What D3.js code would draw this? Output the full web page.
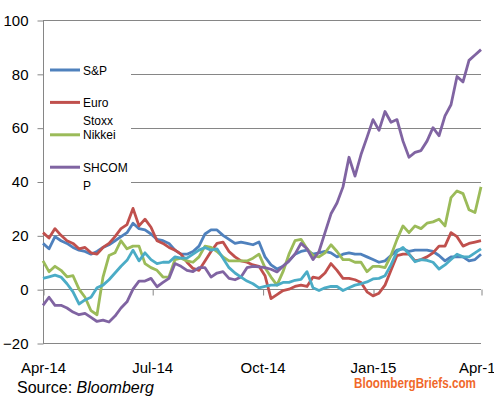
<!DOCTYPE html>
<html lang="en">
<head>
<meta charset="UTF-8" />
<title>Equity indices, Apr-14 to Apr-15</title>
<script src="https://d3js.org/d3.v7.min.js"></script>
<style>
  body { margin: 0; background: #fff; }
  svg { display: block; font-family: "Liberation Sans", Arial, sans-serif; }
  .grid line { stroke: #868686; stroke-width: 1; }
  .axis path, .axis line { stroke: #868686; }
  .axis text { fill: #000; font-size: 15px; }
  .series { fill: none; stroke-width: 2.8; stroke-linejoin: round; }
  .legend text { font-size: 12px; fill: #000; }
</style>
</head>
<body>
<svg id="chart" width="494" height="399"></svg>
<script>
// sample dates (every 5 days)
const dates = [
  "2014-04-01","2014-04-06","2014-04-11","2014-04-16","2014-04-21","2014-04-26",
  "2014-05-01","2014-05-06","2014-05-11","2014-05-16","2014-05-21","2014-05-26","2014-05-31",
  "2014-06-05","2014-06-10","2014-06-15","2014-06-20","2014-06-25","2014-06-30",
  "2014-07-05","2014-07-10","2014-07-15","2014-07-20","2014-07-25","2014-07-30",
  "2014-08-04","2014-08-09","2014-08-14","2014-08-19","2014-08-24","2014-08-29",
  "2014-09-03","2014-09-08","2014-09-13","2014-09-18","2014-09-23","2014-09-28",
  "2014-10-03","2014-10-08","2014-10-13","2014-10-18","2014-10-23","2014-10-28",
  "2014-11-02","2014-11-07","2014-11-12","2014-11-17","2014-11-22","2014-11-27",
  "2014-12-02","2014-12-07","2014-12-12","2014-12-17","2014-12-22","2014-12-27",
  "2015-01-01","2015-01-06","2015-01-11","2015-01-16","2015-01-21","2015-01-26","2015-01-31",
  "2015-02-05","2015-02-10","2015-02-15","2015-02-20","2015-02-25",
  "2015-03-02","2015-03-07","2015-03-12","2015-03-17","2015-03-22","2015-03-27",
  "2015-04-01"
];

const spx = [
  17, 15, 19.5, 18, 17, 15.5, 14.5, 14, 13, 14,
  15.5, 16.5, 18, 19.5, 21, 24.5, 22.5, 22, 20.5, 18.5,
  18, 17, 14.5, 13, 13, 14, 16, 20.5, 22, 22,
  20, 18.5, 17, 17.5, 17, 16.5, 17.5, 12, 9, 7.5,
  8.5, 10.5, 13, 14, 14.5, 13, 13.5, 14, 13.5, 12,
  13, 13.5, 13, 13, 12, 11, 10, 10.5, 12.5, 14.5,
  15, 14, 14.5, 14.5, 14.5, 14, 12.5, 10.5, 12, 12,
  12, 10.5, 11, 13
];
const stoxx = [
  21, 19, 22.5, 20, 18, 17, 15, 15.5, 13.5, 13,
  15.5, 17, 19.5, 22.5, 24, 30, 23.5, 26, 23, 18,
  17, 15.5, 14.5, 13, 10, 7.7, 7, 10.5, 14, 17,
  17.5, 14, 12, 10.5, 10, 9, 8.5, 5, -3.5, -2,
  -0.5, 0, 1, 1.5, 1, 4.5, 4, 6, 9.5, 7,
  4, 4, 3.5, 2.5, -1, -2.5, -1.5, 1.5, 7, 12.5,
  13, 13, 10.5, 11, 12, 13.5, 16, 16, 21, 19.5,
  16, 17, 17.5, 18
];
const nikkei = [
  10.5, 6.5, 8.5, 7, 4.6, 5, 0, -3, -8, -9.5,
  4.5, 12.5, 13.5, 18, 15, 16, 16, 9.5, 8, 7,
  4.5, 4.6, 11, 11.5, 10.5, 10, 12, 16, 15.5, 14,
  12, 10.5, 10.5, 10.5, 10.5, 11.5, 13, 8, 4.5, 1.5,
  6.5, 13, 18, 18.5, 15, 12.5, 12, 13.5, 16.5, 14,
  11, 11, 10, 10, 6.5, 8.5, 8.5, 8, 12.5, 18.5,
  23.5, 21, 23.5, 22.5, 24.5, 25, 26, 23.5, 34, 36.5,
  35.5, 29.5, 28.5, 38
];
const shcomp = [
  -6, -3, -6, -6, -7, -8.5, -9.5, -9, -10.5, -12,
  -11.5, -12.2, -10, -7, -4.7, 0, 3, 3, 4, 0.9,
  2.5, 4, 9.5, 8.5, 7, 6.5, 8, 8, 4.5, 6,
  6.5, 4, 3.5, 4.5, 8, 8.5, 8.3, 8, 7.4, 6.4,
  8.5, 10.5, 13, 17, 15, 11, 14, 21, 28, 32,
  38, 49, 42, 50, 56.4, 63, 59, 66, 62, 63,
  55, 49, 50.8, 51.5, 55, 60, 57, 64.4, 68.5, 79,
  77, 85, 87, 89
];
const other = [
  4, 4.6, 5.2, 4.5, 2, -1, -5.5, -4, -3, 0.5,
  1.5, 3.5, 6, 8.5, 10.7, 14.5, 10.5, 13.5, 11, 9.5,
  10, 10, 12, 11.5, 11.5, 13, 14.5, 15.5, 14.5, 15,
  11.5, 8, 6, 4.5, 3, 2, 0.5, 1, 1.5, 1.5,
  2.5, 2.5, 3.3, 3.6, 6.5, 0.5, -0.5, 0.5, 1, 1,
  -0.5, 0.5, 1.5, 2, 2.7, 3.8, 4, 5, 9, 14,
  15.5, 13, 10.2, 11, 10.7, 10, 7.5, 9, 11, 13,
  12, 12, 13.5, 15
];

const seriesNames = ["S&P", "Euro Stoxx", "Nikkei", "SHCOMP", ""];
const seriesValues = [spx, stoxx, nikkei, shcomp, other];
const seriesColors = ["#4f81bd", "#c0504d", "#9bbb59", "#8064a2", "#4bacc6"];
const legendLines = [["S&P"], ["Euro", "Stoxx"], ["Nikkei"], ["SHCOM", "P"]];
const yTicks = [-20, 0, 20, 40, 60, 80, 100];

const svg = d3.select("#chart");
const parse = d3.timeParse("%Y-%m-%d");

const x = d3.scaleTime()
  .domain([parse("2014-04-01"), parse("2015-04-01")])
  .range([43, 481]);
const y = d3.scaleLinear().domain([-20, 100]).range([343, 20]);

// gridlines
svg.append("g").attr("class", "grid")
  .selectAll("line")
  .data(yTicks)
  .join("line")
  .attr("x1", 43).attr("x2", 481)
  .attr("y1", d => Math.round(y(d)) + 0.5)
  .attr("y2", d => Math.round(y(d)) + 0.5);

// y axis
svg.append("g").attr("class", "axis")
  .attr("transform", "translate(43.5,0.5)")
  .call(d3.axisLeft(y).tickValues(yTicks).tickSize(6).tickSizeOuter(0).tickPadding(9))
  .call(g => g.select(".domain").attr("d", `M0,${y(100)}V${y(-20)}`));

// x axis ticks on the zero line
const xTicks = d3.timeMonth.every(3).range(parse("2014-04-01"), parse("2015-04-02"));
svg.append("g").attr("class", "axis")
  .attr("transform", `translate(0.5,${Math.round(y(0)) + 0.5})`)
  .call(d3.axisBottom(x).tickValues(xTicks).tickSize(6).tickSizeOuter(0).tickFormat(""))
  .call(g => g.select(".domain").remove());

// x labels at the bottom
svg.append("g").attr("class", "axis")
  .attr("transform", "translate(0,356)")
  .call(d3.axisBottom(x).tickValues(xTicks).tickSize(0).tickPadding(6).tickFormat(d3.timeFormat("%b-%y")))
  .call(g => g.select(".domain").remove());

// series
const line = d3.line()
  .x((d, i) => x(parse(dates[i])))
  .y(d => y(d));

svg.append("g")
  .selectAll("path")
  .data(seriesValues)
  .join("path")
  .attr("class", "series")
  .attr("stroke", (d, i) => seriesColors[i])
  .attr("d", d => line(d));

// legend
const legend = svg.append("g").attr("class", "legend");
legend.append("rect")
  .attr("x", 44).attr("y", 56).attr("width", 87).attr("height", 137)
  .attr("fill", "#fff");
const item = legend.selectAll("g.item")
  .data(legendLines)
  .join("g")
  .attr("class", "item")
  .attr("transform", (d, i) => `translate(0,${70 + i * 32.4})`);
item.append("line")
  .attr("x1", 50).attr("x2", 80)
  .attr("stroke", (d, i) => seriesColors[i])
  .attr("stroke-width", 3);
item.append("text")
  .selectAll("tspan")
  .data(d => d)
  .join("tspan")
  .attr("x", 83)
  .attr("y", (d, i) => 4.5 + i * 18)
  .text(d => d);

// footer
const src = svg.append("text")
  .attr("x", 17).attr("y", 393)
  .attr("font-size", 16);
src.append("tspan").text("Source: ");
src.append("tspan").attr("font-style", "italic").text("Bloomberg");

svg.append("text")
  .attr("x", 354).attr("y", 388)
  .attr("font-family", "'Liberation Sans Narrow', 'Liberation Sans', sans-serif")
  .attr("font-weight", "bold")
  .attr("font-size", 14)
  .attr("fill", "#f0682a")
  .attr("textLength", 122)
  .attr("lengthAdjust", "spacingAndGlyphs")
  .text("BloombergBriefs.com");
</script>
</body>
</html>
